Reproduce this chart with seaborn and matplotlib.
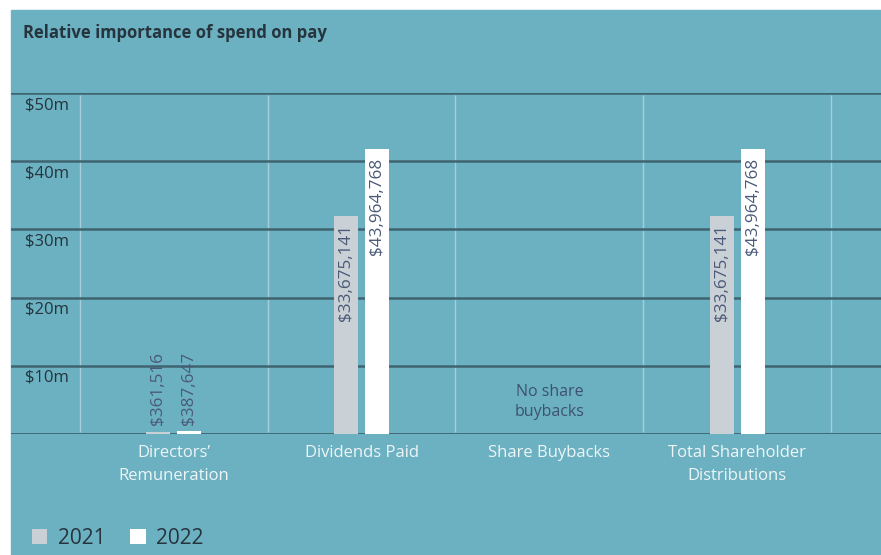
import numpy as np
import pandas as pd
import matplotlib
matplotlib.use('Agg')
import matplotlib.pyplot as plt
import seaborn as sns
from matplotlib.patches import Rectangle

# ----------------------------
# Data
# ----------------------------
categories = ['Directors’\nRemuneration', 'Dividends Paid', 'Share Buybacks',
              'Total Shareholder\nDistributions']
years = ['2021', '2022']
values_2021 = [361516, 33675141, 0, 33675141]
values_2022 = [387647, 43964768, 0, 43964768]
grid_values = [10, 20, 30, 40, 50]
grid_labels = ['$10m', '$20m', '$30m', '$40m', '$50m']
note_text = 'No share\nbuybacks'

df = pd.DataFrame({
    'Category': categories * 2,
    'Year': [years[0]] * 4 + [years[1]] * 4,
    'Value': [v / 1e6 for v in values_2021 + values_2022],
})

# ----------------------------
# Style
# ----------------------------
teal = '#6cb1c1'
dark_line = '#3f6470'
light_line = '#a6cfd9'
bar_2021 = '#c9d0d6'
bar_2022 = '#ffffff'
label_col = '#4a5a78'
text_dark = '#25343d'

sns.set_style('white')
plt.rcParams['font.family'] = ['Open Sans', 'DejaVu Sans']

W, H = 881, 555
fig = plt.figure(figsize=(W / 100, H / 100), dpi=100, facecolor='white')
fig.patches.append(Rectangle((11 / W, 0), 1 - 11 / W, 1 - 10 / H,
                             transform=fig.transFigure, color=teal, zorder=-10))

ax = fig.add_axes([11 / W, 1 - 434 / H, (W - 11) / W, (434 - 93) / H])
ax.set_facecolor('none')
ax2 = ax.twinx()

sns.barplot(data=df, x='Category', y='Value', hue='Year', order=categories,
            hue_order=years, palette=[bar_2021, bar_2022], width=0.33, gap=0.225,
            saturation=1, errorbar=None, linewidth=0, ax=ax2, zorder=3)

xmin, xmax = -0.868, 3.767
ax.set_xlim(xmin, xmax)
ax2.set_xlim(xmin, xmax)
ax.set_ylim(0, 50)
ax2.set_ylim(0, 52.6)

# grid lines
for v in grid_values:
    ax.axhline(v, color=dark_line, lw=1.8, zorder=1)
ax.axhline(0, color=dark_line, lw=2, zorder=1)
for xv in np.arange(-0.5, 4, 1):
    ax.vlines(xv, 0.3, 49.7, color=light_line, lw=1, zorder=0)

for a in (ax, ax2):
    for s in a.spines.values():
        s.set_visible(False)
ax2.set_yticks([])
ax2.set_ylabel('')
ax2.set_xlabel('')
ax.set_yticks([])
ax.set_xticks(range(len(categories)))
ax.set_xticklabels(categories, color='#eef5f7', fontsize=12, linespacing=1.6,
                   va='top')
ax.tick_params(axis='x', length=0, pad=8)
ax2.tick_params(axis='x', length=0, labelbottom=False)

# y labels below gridlines
for v, lab in zip(grid_values, grid_labels):
    ax.annotate(lab, xy=(14 / (W - 11), v), xycoords=('axes fraction', 'data'),
                xytext=(0, -3), textcoords='offset points', ha='left', va='top',
                fontsize=12, color=text_dark)

# value labels
for cont, vals in zip(ax2.containers, [values_2021, values_2022]):
    for patch, v in zip(cont.patches, vals):
        if v <= 0:
            continue
        xc = patch.get_x() + patch.get_width() / 2
        if v > 5e6:
            off, va = -6, 'top'
        else:
            off, va = 5, 'bottom'
        ax2.annotate(f'${v:,}', xy=(xc, v / 1e6), xytext=(0, off),
                     textcoords='offset points', ha='center', va=va,
                     rotation=90, fontsize=12.3, color=label_col, zorder=4)

ax2.text(2, 2.2, note_text, ha='center', va='bottom', fontsize=11.5,
         color='#3d5170', linespacing=1.3)

# legend
handles, labels = ax2.get_legend_handles_labels()
ax2.legend_.remove()
for h in handles:
    h.set_linewidth(0)
fig.legend(handles, labels, loc='center left', bbox_to_anchor=(13 / W, 1 - 538 / H),
           ncol=2, frameon=False, fontsize=15, handlelength=0.75, handleheight=0.75,
           handletextpad=0.5, columnspacing=1.2, labelcolor=text_dark)

fig.text(23 / W, 1 - 33 / H, 'Relative importance of spend on pay', fontsize=12,
         fontweight='bold', color=text_dark, ha='left', va='center')

fig.savefig('out.png', dpi=100, facecolor='white')
